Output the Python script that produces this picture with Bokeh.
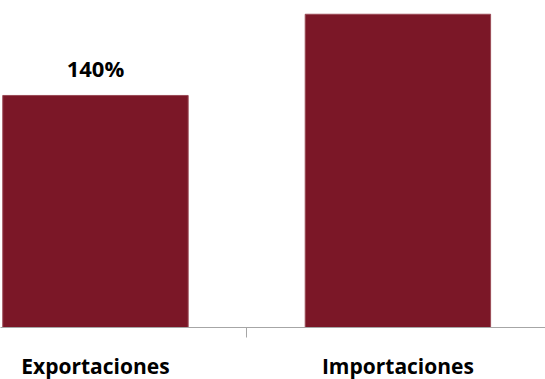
from bokeh.plotting import figure
from bokeh.models import ColumnDataSource, FixedTicker, Range1d
from bokeh.core.properties import value
from bokeh.embed import file_html
from bokeh.resources import INLINE

categories = ["Exportaciones", "Importaciones"]
values = [140, 189]
labels = ["140%", ""]  # the second bar's label lies above the visible area

xs = list(range(len(categories)))
src = ColumnDataSource(dict(x=xs, top=values, label=labels))

p = figure(frame_width=545, frame_height=327, output_backend="svg",
           toolbar_location=None, x_range=Range1d(-0.314, 1.488),
           y_range=Range1d(0, 197.3), min_border_left=0, min_border_right=0,
           min_border_top=0, min_border_bottom=52)
p.outline_line_color = None
p.grid.visible = False
p.yaxis.visible = False
p.background_fill_color = "white"
p.border_fill_color = "white"

p.vbar(x="x", top="top", width=0.613, source=src, fill_color="#7B1727",
       line_color="#9a4a56", line_width=1)

p.text(x="x", y="top", text="label", source=src, text_align="center",
       text_baseline="alphabetic", y_offset=-27,
       text_font=value("Open Sans"), text_font_style="bold",
       text_font_size="22px", text_color="black")

ax = p.xaxis[0]
ax.ticker = FixedTicker(ticks=xs, minor_ticks=[0.5])
ax.major_label_overrides = {i: c for i, c in enumerate(categories)}
ax.major_tick_line_color = None
ax.major_tick_out = 0
ax.major_tick_in = 0
ax.minor_tick_out = 10
ax.minor_tick_in = 0
ax.minor_tick_line_color = "#a6a6a6"
ax.axis_line_color = "#a6a6a6"
ax.axis_line_width = 1
ax.major_label_standoff = 14
ax.major_label_text_font = "Open Sans"
ax.major_label_text_font_style = "bold"
ax.major_label_text_font_size = "21px"
ax.major_label_text_color = "black"

open("out.html", "w").write(file_html(p, INLINE))
